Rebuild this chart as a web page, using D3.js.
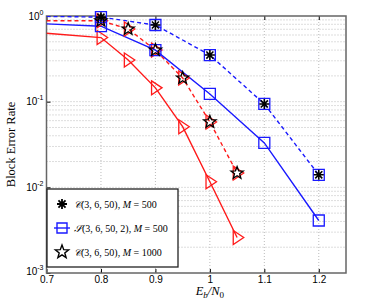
<!DOCTYPE html>
<html>
<head>
<meta charset="utf-8">
<script src="https://cdn.jsdelivr.net/npm/d3@7"></script>
<style>
  body { margin: 0; background: #fff; }
  text { font-family: "Liberation Sans", Arial, sans-serif; }
  .math { font-family: "Liberation Serif", "DejaVu Serif", serif; font-style: italic; }
</style>
</head>
<body>
<svg></svg>
<script>
// data
var ebno = [0.7, 0.8, 0.85, 0.9, 0.95, 1.0, 1.05]
var redSolid = [0.63, 0.56, 0.307, 0.145, 0.051, 0.0116, 0.0026]
var redDashed = [0.88, 0.88, 0.705, 0.40, 0.189, 0.058, 0.0147]
var ebnoBlue = [0.7, 0.8, 0.9, 1.0, 1.1, 1.2]
var blueSolid = [0.81, 0.76, 0.40, 0.123, 0.033, 0.0041]
var blueDashed = [0.99, 0.97, 0.785, 0.35, 0.094, 0.014]
var xTicks = [0.7, 0.8, 0.9, 1.0, 1.1, 1.2]
var yTicks = [1, 0.1, 0.01, 0.001]
var legendLabels = ["C(3, 6, 50), M = 500", "S(3, 6, 50, 2), M = 500", "C(3, 6, 50), M = 1000"]

var screen = {width:378, height:307}
var plot = {left:46.5, right:346, top:16, bottom:273}

var svg = d3.select("svg")
  .attr("width", screen.width)
  .attr("height", screen.height)

var xScale = d3.scaleLinear()
  .domain([0.7, 1.25])
  .range([plot.left, plot.right])

var yScale = d3.scaleLog()
  .domain([0.001, 1])
  .range([plot.bottom, plot.top])

// grid lines, major and minor
var grid = svg.append("g").attr("id","grid")
xTicks.forEach(function(t){
  grid.append("line")
    .attr("x1", xScale(t)).attr("x2", xScale(t))
    .attr("y1", plot.top).attr("y2", plot.bottom)
    .attr("stroke","#bbb").attr("stroke-dasharray","1,2")
})
var minor = []
for (var e = -3; e < 0; e++) for (var m = 1; m < 10; m++) minor.push(m*Math.pow(10,e))
minor.forEach(function(v){
  if (v <= 0.001) return
  grid.append("line")
    .attr("x1", plot.left).attr("x2", plot.right)
    .attr("y1", yScale(v)).attr("y2", yScale(v))
    .attr("stroke","#bbb").attr("stroke-dasharray","1,2")
})

// axes
var xAxis = d3.axisBottom(xScale).tickValues(xTicks).tickSize(-4).tickPadding(3)
  .tickFormat(function(d){ return d3.format("")(+d.toFixed(1)) })
svg.append("g")
  .attr("transform","translate(0,"+plot.bottom+")")
  .call(xAxis)
  .call(function(g){ g.select(".domain").remove() })
  .selectAll("text").attr("font-size", 10).attr("fill","#000")

var yAxis = d3.axisLeft(yScale).tickValues(yTicks).tickSize(-4).tickPadding(3)
  .tickFormat(function(){ return "" })
var ya = svg.append("g")
  .attr("transform","translate("+plot.left+",0)")
  .call(yAxis)
ya.select(".domain").remove()
ya.selectAll(".tick").each(function(d){
  var t = d3.select(this).select("text").attr("font-size",10).attr("fill","#000")
  if (d == 0.001) t.attr("dy","0.1em")
  t.append("tspan").text("10")
  t.append("tspan").attr("dy",-5).attr("font-size",7).text(Math.round(Math.log10(d)))
})
// top ticks
svg.append("g").attr("transform","translate(0,"+plot.top+")")
  .call(d3.axisTop(xScale).tickValues(xTicks).tickSize(-4).tickFormat(""))
  .select(".domain").remove()

svg.append("rect")
  .attr("x", plot.left).attr("y", plot.top)
  .attr("width", plot.right-plot.left).attr("height", plot.bottom-plot.top)
  .attr("fill","none").attr("stroke","#666").attr("stroke-width",1.5)

svg.append("text").attr("class","math")
  .attr("transform","translate(15,"+((plot.top+plot.bottom)/2)+") rotate(-90)")
  .attr("text-anchor","middle").attr("font-size",12.5)
  .style("font-style","normal")
  .text("Block Error Rate")

var xl = svg.append("text").attr("class","math")
  .attr("x", xScale(1.0)).attr("y", 295)
  .attr("text-anchor","middle").attr("font-size",12.5)
xl.append("tspan").text("E")
xl.append("tspan").attr("dy",3).attr("font-size",9).text("b")
xl.append("tspan").attr("dy",-3).text("/N")
xl.append("tspan").attr("dy",3).attr("font-size",9).style("font-style","normal").text("0")

// clip for lines
svg.append("clipPath").attr("id","clip").append("rect")
  .attr("x", plot.left).attr("y", plot.top)
  .attr("width", plot.right-plot.left).attr("height", plot.bottom-plot.top)

var line = d3.line()
  .x(function(d){ return xScale(d[0]) })
  .y(function(d){ return yScale(d[1]) })

function pairs(xs, ys){ return xs.map(function(x,i){ return [x, ys[i]] }) }

var starPath = function(r){
  var pts = []
  for (var i = 0; i < 10; i++) {
    var a = -Math.PI/2 + i*Math.PI/5
    var rr = i%2==0 ? r : r*0.42
    pts.push([rr*Math.cos(a), rr*Math.sin(a)])
  }
  return "M" + pts.join("L") + "Z"
}
var triPath = function(r){
  return "M"+(-r*0.55)+","+(-r)+"L"+(r*0.95)+",0L"+(-r*0.55)+","+r+"Z"
}
var asteriskPath = function(r){
  var p = ""
  for (var i = 0; i < 4; i++) {
    var a = i*Math.PI/4
    p += "M"+(r*Math.cos(a))+","+(r*Math.sin(a))+"L"+(-r*Math.cos(a))+","+(-r*Math.sin(a))
  }
  return p
}

var series = [
  {x: ebnoBlue, y: blueDashed, color: "#1a1aff", dash: "4,3"},
  {x: ebno, y: redDashed, color: "#ff1a1a", dash: "4,3"},
  {x: ebnoBlue, y: blueSolid, color: "#1a1aff", dash: null},
  {x: ebno, y: redSolid, color: "#ff1a1a", dash: null}
]
var lines = svg.append("g").attr("clip-path","url(#clip)")
series.forEach(function(s){
  lines.append("path")
    .datum(pairs(s.x, s.y))
    .attr("d", line)
    .attr("fill","none")
    .attr("stroke", s.color)
    .attr("stroke-width", 1.4)
    .attr("stroke-dasharray", s.dash)
})

var marks = svg.append("g")
function drawMarks(data, path, color, fill, width){
  marks.selectAll(null).data(data.filter(function(d){ return d[0] > 0.7 }))
    .enter().append("path")
    .attr("transform", function(d){ return "translate("+xScale(d[0])+","+yScale(d[1])+")" })
    .attr("d", path)
    .attr("fill", fill).attr("stroke", color).attr("stroke-width", width)
}
var sq = function(r){ return "M"+(-r)+","+(-r)+"h"+(2*r)+"v"+(2*r)+"h"+(-2*r)+"Z" }
drawMarks(pairs(ebno, redSolid), triPath(7), "#ff1a1a", "none", 1.3)
drawMarks(pairs(ebno, redDashed), triPath(7), "#ff1a1a", "none", 1.3)
drawMarks(pairs(ebnoBlue, blueSolid), sq(5.5), "#1a1aff", "none", 1.3)
drawMarks(pairs(ebnoBlue, blueDashed), sq(5.5), "#1a1aff", "none", 1.3)
drawMarks(pairs(ebno, redDashed), starPath(6.5), "#000", "none", 1.3)
drawMarks(pairs(ebnoBlue, blueDashed), asteriskPath(5), "#000", "none", 1.6)

// legend
var lg = svg.append("g").attr("transform","translate(47,189)")
lg.append("rect").attr("width",131).attr("height",78)
  .attr("fill","#fff").attr("stroke","#222").attr("stroke-width",1.3)
var lgMarks = [asteriskPath(5), sq(5), starPath(7)]
legendLabels.forEach(function(lbl, i){
  var y = 15 + i*24
  var g = lg.append("g").attr("transform","translate(15,"+y+")")
  if (i == 1) g.append("line").attr("x1",-8).attr("x2",8).attr("stroke","#1a1aff").attr("stroke-width",1.4)
  g.append("path").attr("d", lgMarks[i]).attr("fill","none")
    .attr("stroke", i==1 ? "#1a1aff" : "#000").attr("stroke-width", i==0 ? 1.8 : 1.4)
  var t = lg.append("text").attr("class","math").attr("x",27).attr("y",y+4).attr("font-size",10)
  var parts = lbl.split(", M")
  t.append("tspan").text(parts[0].charAt(0)=="C" ? "\u{1D49E}" : "\u{1D4AE}")
  t.append("tspan").style("font-style","normal").text(parts[0].slice(1)+", ")
  t.append("tspan").text("M")
  t.append("tspan").style("font-style","normal").text(parts[1])
})
</script>
</body>
</html>
